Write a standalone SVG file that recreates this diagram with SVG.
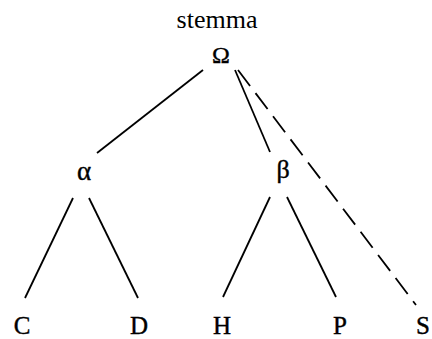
<svg xmlns="http://www.w3.org/2000/svg" width="432" height="339" viewBox="0 0 432 339">
<style>
text{font-family:"Liberation Serif","Times New Roman",serif;fill:#000;text-anchor:middle}
.lbl{font-size:25px;stroke:#000;stroke-width:0.4}
.ln{stroke:#000;stroke-width:1.8;fill:none;stroke-linecap:butt}
.dash{stroke-dasharray:20 9}
</style>
<rect width="432" height="339" fill="#fff"/>
<text x="217" y="28" style="font-size:26px">stemma</text>
<g id="connectors">
<line class="ln" x1="203" y1="70" x2="97" y2="153"/>
<line class="ln" x1="235" y1="70" x2="270" y2="152"/>
<line class="ln dash" x1="238" y1="70" x2="416" y2="305"/>
<line class="ln" x1="73" y1="198" x2="25" y2="298"/>
<line class="ln" x1="89" y1="198" x2="138" y2="298"/>
<line class="ln" x1="270" y1="197" x2="223" y2="297"/>
<line class="ln" x1="287" y1="197" x2="336" y2="297"/>
</g>
<g id="omega"><text class="lbl" x="221" y="63" style="font-size:24px">Ω</text></g>
<g id="alpha"><text class="lbl" x="84" y="180" style="font-size:27px">α</text></g>
<g id="beta"><text class="lbl" x="283" y="178" style="font-size:26px">β</text></g>
<g id="C"><text class="lbl" x="22" y="334">C</text></g>
<g id="D"><text class="lbl" x="139" y="334">D</text></g>
<g id="H"><text class="lbl" x="222" y="334">H</text></g>
<g id="P"><text class="lbl" x="340" y="334">P</text></g>
<g id="S"><text class="lbl" x="423" y="334">S</text></g>
</svg>
